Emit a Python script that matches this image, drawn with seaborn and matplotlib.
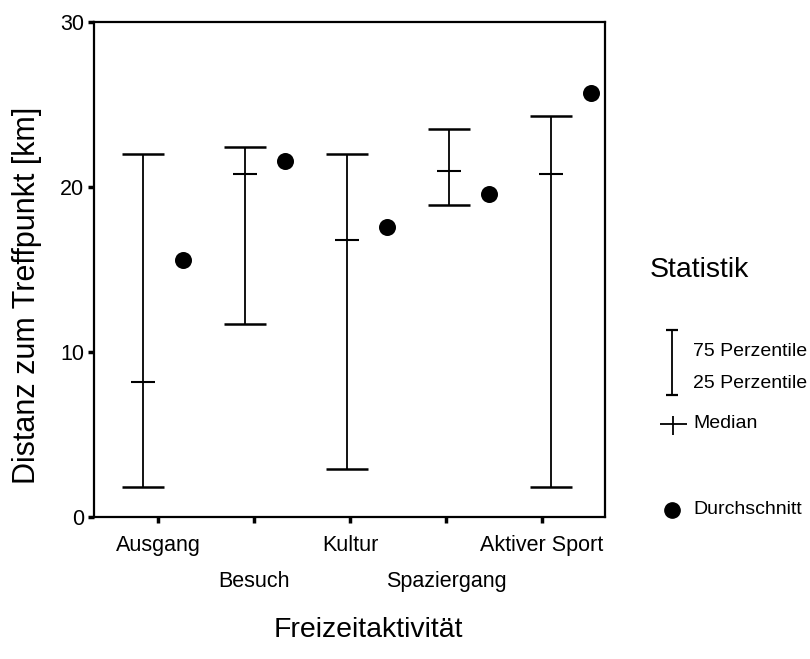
import numpy as np
import pandas as pd
import matplotlib
matplotlib.use("Agg")
import matplotlib.pyplot as plt
import matplotlib.transforms as mtransforms
import seaborn as sns

categories = ["Ausgang", "Besuch", "Kultur", "Spaziergang", "Aktiver Sport"]
p25 = [1.8, 11.7, 2.9, 18.9, 1.8]
median = [8.2, 20.8, 16.8, 21.0, 20.8]
p75 = [22.0, 22.4, 22.0, 23.5, 24.3]
mean = [15.6, 21.6, 17.6, 19.6, 25.7]
yticks = [0, 10, 20, 30]

sns.set_theme(style="ticks")
plt.rcParams["font.family"] = ["Liberation Sans", "DejaVu Sans"]

df = pd.DataFrame({"cat": categories, "p25": p25, "median": median,
                   "p75": p75, "mean": mean})
df["x"] = np.arange(len(df))
df["xm"] = df["x"] + 0.39

fig = plt.figure(figsize=(8.10, 6.59), dpi=100)
ax = fig.add_axes([94 / 810, 1 - 517 / 659, (605 - 94) / 810, (517 - 22) / 659])

# percentile range bars
ax.vlines(df["x"], df["p25"], df["p75"], color="black", lw=1.3)
ax.hlines(df["p25"], df["x"] - 0.205, df["x"] + 0.205, color="black", lw=1.8)
ax.hlines(df["p75"], df["x"] - 0.205, df["x"] + 0.205, color="black", lw=1.8)
# median
ax.hlines(df["median"], df["x"] - 0.12, df["x"] + 0.12, color="black", lw=1.5)
# mean
sns.scatterplot(data=df, x="xm", y="mean", ax=ax, color="black", s=150,
                edgecolor="black", linewidth=0, zorder=3, legend=False)

ax.set_xlim(-0.48, 4.53)
ax.set_ylim(0, 30)
ax.set_yticks(yticks)
ax.set_yticklabels([str(v) for v in yticks])
tick_pos = [0.15 + 0.94 * i for i in range(len(categories))]
ax.set_xticks(tick_pos)
ax.set_xticklabels(categories)
ax.tick_params(axis="both", labelsize=15.5, length=4, width=2.5, direction="out",
               color="black", labelcolor="black")
ax.tick_params(axis="x", pad=9)
ax.tick_params(axis="y", pad=3)
for s in ax.spines.values():
    s.set_visible(True)
    s.set_linewidth(1.6)
    s.set_color("black")
ax.set_xlabel("")
ax.set_ylabel("")

# stagger every second category label downward
shift = mtransforms.ScaledTranslation(0, -36 / 100, fig.dpi_scale_trans)
for i, lab in enumerate(ax.get_xticklabels()):
    if i % 2 == 1:
        lab.set_transform(lab.get_transform() + shift)

fig.text(27 / 810, 1 - 295 / 659, "Distanz zum Treffpunkt [km]", rotation=90,
         ha="center", va="center", fontsize=22, color="black")
fig.text(368 / 810, 1 - 630 / 659, "Freizeitaktivität", ha="center", va="center",
         fontsize=20.5, color="black")

# legend drawn in its own pixel-based axes
lax = fig.add_axes([0, 0, 1, 1], facecolor="none")
lax.set_xlim(0, 810)
lax.set_ylim(659, 0)
lax.axis("off")
lax.text(650, 270, "Statistik", fontsize=20.5, va="center", ha="left", color="black")
lax.vlines(672, 330, 395, color="black", lw=1.3)
lax.hlines([330, 395], 666, 678, color="black", lw=1.6)
lax.text(693, 351, "75 Perzentile", fontsize=14, va="center", ha="left", color="black")
lax.text(693, 384, "25 Perzentile", fontsize=14, va="center", ha="left", color="black")
lax.hlines(424, 660, 687, color="black", lw=1.3)
lax.vlines(673, 416, 435, color="black", lw=1.3)
lax.text(693, 423, "Median", fontsize=14, va="center", ha="left", color="black")
lax.plot([672], [510], "o", color="black", ms=11)
lax.text(693, 510, "Durchschnitt", fontsize=14, va="center", ha="left", color="black")

fig.savefig("out.png", dpi=100)
